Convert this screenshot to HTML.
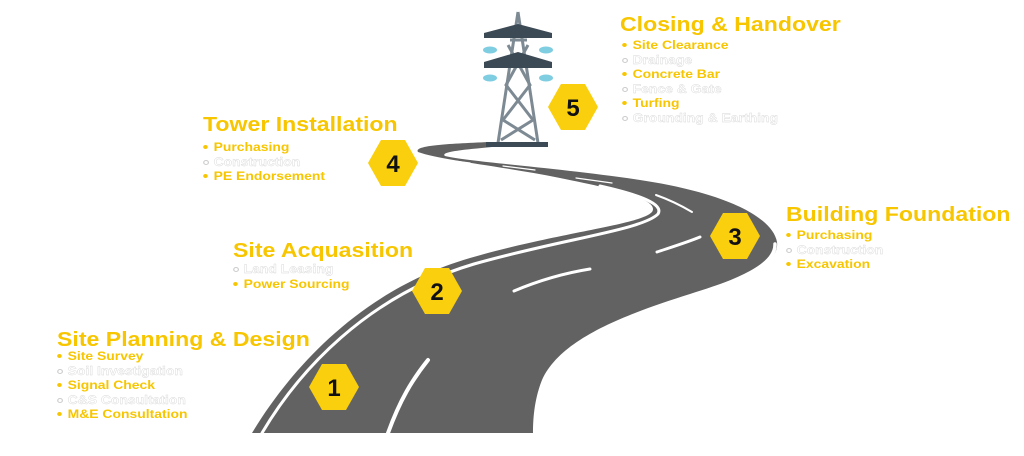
<!DOCTYPE html>
<html><head><meta charset="utf-8"><style>
body{margin:0;width:1024px;height:456px;background:#fff;position:relative;overflow:hidden;font-family:"Liberation Sans",Arial,sans-serif}
.t{position:absolute;color:#F7C600;font-weight:bold;font-size:20px;line-height:20px;white-space:nowrap;transform:scaleX(1.155);transform-origin:0 0}
.l{position:absolute;font-weight:bold;font-size:12px;line-height:14.5px;white-space:nowrap;transform:scaleX(1.16);transform-origin:0 0}
.l div{position:relative;padding-left:10px}
.l div:before{content:"";position:absolute;left:1px;top:5px;width:4px;height:4px;border-radius:50%;background:#F7C600}
.y{color:#F7C600}
.w{color:#fff;-webkit-text-stroke:0.4px #d8d8d8}
.l div.w:before{background:#fff;border:0.5px solid #ccc;width:3px;height:3px}
svg{position:absolute;left:0;top:0}
</style></head><body>
<svg width="1024" height="456" viewBox="0 0 1024 456">
<path d="M252,433 C290,370 360,290 470,258 C560,232 640,225 652,212 C660,200 620,190 560,178 C500,166 440,160 418,152 C414,146 440,144 490,142 L492,147 C460,150 440,152 445,156 C470,162 560,168 640,180 C720,192 772,215 777,242 C780,265 740,278 690,294 C620,316 560,340 542,380 C534,400 533,420 533,433 Z" fill="#626262"/>
<g fill="none" stroke="#fff" stroke-linecap="round">
<path d="M262,433 C298,372 366,296 474,264 C562,239 642,230 658,214 C664,204 640,195 600,186" stroke-width="3"/>
<path d="M775,244 C776,266 738,280 688,298 C618,320 562,345 548,384 C542,400 541,420 541,433" stroke-width="3.5"/>
<path d="M388,433 C400,400 412,380 428,360" stroke-width="4"/>
<path d="M514,291 C540,280 565,273 590,269" stroke-width="3"/>
<path d="M657,252 C672,247 688,242 700,237" stroke-width="3"/>
<path d="M656,195 C670,200 682,206 692,212" stroke-width="2"/>
<path d="M576,178 L612,183 M503,166 L535,170 M446,160 L470,163" stroke-width="1.2"/>
</g>
<g stroke="#7d8a93" stroke-width="3" fill="none">
<path d="M518,12 L498,143 M518,12 L538,143"/>
<path d="M508,45 L530,85 L503,120 L535,140 M528,45 L506,85 L533,120 L501,140 M510,40 L527,40"/>
</g>
<g fill="#3c4a55">
<path d="M484,33 L518,24 L552,33 L552,38 L484,38 Z"/>
<path d="M484,62 L518,52 L552,62 L552,68 L484,68 Z"/>
<rect x="486" y="142" width="62" height="5"/>
</g>
<g fill="#7fcde0">
<ellipse cx="490" cy="50" rx="7" ry="3.5"/><ellipse cx="546" cy="50" rx="7" ry="3.5"/>
<ellipse cx="490" cy="78" rx="7" ry="3.5"/><ellipse cx="546" cy="78" rx="7" ry="3.5"/>
</g>
<g fill="#F9CF0E">
<polygon points="309,387 322,364 346,364 359,387 346,410 322,410"/>
<polygon points="412,291 425,268 449,268 462,291 449,314 425,314"/>
<polygon points="710,236 723,213 747,213 760,236 747,259 723,259"/>
<polygon points="368,163 381,140 405,140 418,163 405,186 381,186"/>
<polygon points="548,107 561,84 585,84 598,107 585,130 561,130"/>
</g>
<g font-family="Liberation Sans,Arial,sans-serif" font-weight="bold" font-size="24" text-anchor="middle" fill="#111">
<text x="334" y="396">1</text><text x="437" y="300">2</text><text x="735" y="245">3</text><text x="393" y="172">4</text><text x="573" y="116">5</text>
</g>
</svg>
<div class="t" style="left:620px;top:15px">Closing &amp; Handover</div>
<div class="l" style="left:621px;top:38px"><div class="y">Site Clearance</div><div class="w">Drainage</div><div class="y">Concrete Bar</div><div class="w">Fence &amp; Gate</div><div class="y">Turfing</div><div class="w">Grounding &amp; Earthing</div></div>
<div class="t" style="left:203px;top:115px">Tower Installation</div>
<div class="l" style="left:202px;top:140px"><div class="y">Purchasing</div><div class="w">Construction</div><div class="y">PE Endorsement</div></div>
<div class="t" style="left:786px;top:205px">Building Foundation</div>
<div class="l" style="left:785px;top:228px"><div class="y">Purchasing</div><div class="w">Construction</div><div class="y">Excavation</div></div>
<div class="t" style="left:233px;top:241px">Site Acquasition</div>
<div class="l" style="left:232px;top:262px"><div class="w">Land Leasing</div><div class="y">Power Sourcing</div></div>
<div class="t" style="left:57px;top:330px">Site Planning &amp; Design</div>
<div class="l" style="left:56px;top:349px"><div class="y">Site Survey</div><div class="w">Soil Investigation</div><div class="y">Signal Check</div><div class="w">C&amp;S Consultation</div><div class="y">M&amp;E Consultation</div></div>
</body></html>
